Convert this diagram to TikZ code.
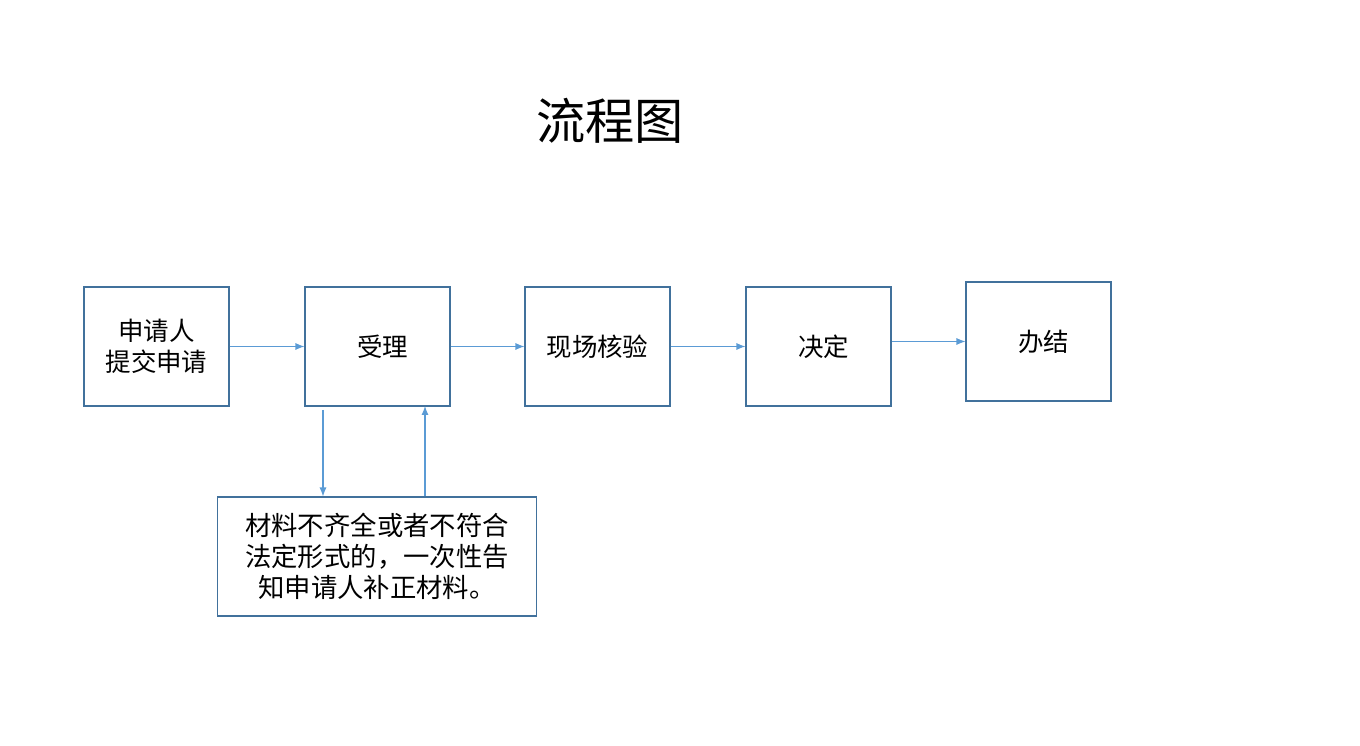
\documentclass[tikz,border=0pt]{standalone}
\usepackage{fontspec}
\usepackage{tikz}
\usetikzlibrary{arrows.meta}
\newfontfamily\cjk{Noto Sans CJK SC}
\definecolor{boxline}{HTML}{41719C}
\definecolor{arrline}{HTML}{5B9BD5}
\tikzset{
	stepbox/.style={draw=boxline,line width=0.6pt,minimum width=2.9cm,minimum height=2.38cm,
		align=center,font=\cjk\fontsize{14.5}{18}\selectfont,inner sep=0pt},
	arr/.style={draw=arrline,line width=0.6pt,-{Latex[length=0.18cm,width=0.14cm]}}
}

\begin{document}
\begin{tikzpicture}[x=0.02cm,y=-0.02cm]
			\useasboundingbox (0,0) rectangle (1360,746);
			\node[font=\cjk\fontsize{28}{32}\selectfont] (title) at (610,121) {流程图};
			\node[stepbox] (sq) at (156.5,346.5) {申请人\\提交申请};
			\node[stepbox] (shou) at (377.5,346.5) {\hspace{6pt}受理};
			\node[stepbox] (hy) at (597.5,346.5) {现场核验};
			\node[stepbox] (jd) at (818.5,346.5) {\hspace{6pt}决定};
			\node[stepbox] (bj) at (1038.5,341.5) {\hspace{6pt}办结};
			\node[stepbox,minimum width=6.4cm,font=\cjk\fontsize{15}{17.6}\selectfont] (bu) at (377,556.5)
				{材料不齐全或者不符合\\法定形式的，一次性告\\知申请人补正材料。};
			\draw[arr] (sq.east) -- (shou.west);
			\draw[arr] (shou.east) -- (hy.west);
			\draw[arr] (hy.east) -- (jd.west);
			\draw[arr] (bj.west -| jd.east) -- (bj.west);
			\coordinate (down) at (323,410);
			\coordinate (up) at (425,406);
			\draw[arr] (down) -- (down |- bu.north);
			\draw[arr] (up |- bu.north) -- (up);
		\end{tikzpicture}
\end{document}
